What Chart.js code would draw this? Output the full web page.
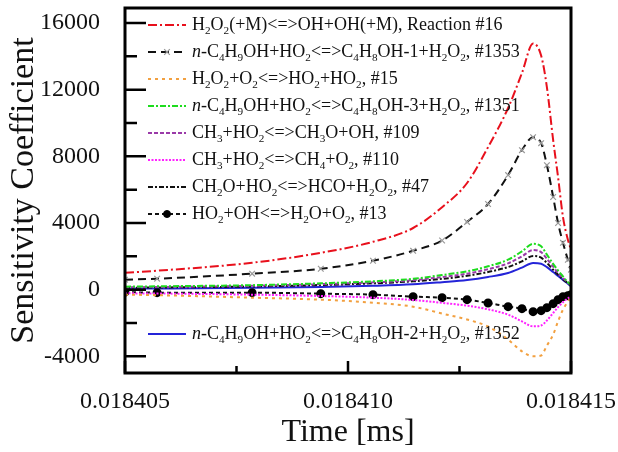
<!DOCTYPE html>
<html>
<head>
<meta charset="utf-8">
<style>
  html, body { margin: 0; padding: 0; background: #fff; }
  #wrap { width: 618px; height: 452px; position: relative; }
</style>
<script src="https://cdn.jsdelivr.net/npm/chart.js@4.4.1/dist/chart.umd.min.js"></script>
</head>
<body>
<div id="wrap"><canvas id="sensChart"></canvas></div>
<script>
// time grid of the solver output [ms]
const times = [0.018405, 0.01840572, 0.01840785, 0.01840939, 0.01841056, 0.01841146, 0.01841211,
  0.01841267, 0.01841314, 0.01841359, 0.01841390, 0.01841415, 0.01841433, 0.01841446,
  0.01841460, 0.01841471, 0.01841482, 0.01841493, 0.018415];

// sensitivity coefficients, one array per reaction
const r16   = [1016, 1136, 1614, 2212, 2870, 3700, 4950, 6400, 8550, 10900, 13000, 14770, 14050, 12140, 8970, 6750, 4360, 3000, 2400];
const r1353 = [598, 658, 957, 1256, 1734, 2332, 2950, 4066, 5140, 6876, 8370, 9150, 8790, 7470, 5560, 4000, 2810, 1790, 1200];
const r15   = [-300, -330, -480, -600, -780, -1020, -1435, -1790, -2210, -2990, -3700, -4000, -3950, -3350, -2700, -1900, -1200, -720, -480];
const r1351 = [180, 200, 270, 380, 500, 650, 880, 1100, 1400, 1800, 2300, 2750, 2600, 2100, 1550, 1150, 800, 450, 300];
const r109  = [140, 160, 230, 330, 440, 570, 760, 960, 1230, 1580, 2000, 2380, 2250, 1850, 1380, 1000, 700, 420, 280];
const r110  = [-220, -230, -300, -380, -480, -620, -790, -960, -1180, -1500, -1900, -2200, -2150, -1850, -1400, -1050, -750, -520, -420];
const r47   = [110, 130, 190, 280, 380, 500, 650, 830, 1060, 1360, 1700, 2020, 1920, 1600, 1200, 900, 620, 380, 250];
const r13   = [-150, -180, -180, -240, -300, -420, -480, -600, -800, -1020, -1140, -1320, -1260, -1080, -840, -600, -420, -360, -300];
const r1352 = [60, 70, 110, 160, 230, 320, 450, 580, 760, 1000, 1320, 1600, 1560, 1350, 1060, 820, 580, 360, 200];

// legend text: _x = subscript char, *..* = italic
const labels = [
  'H_2O_2(+M)<=>OH+OH(+M), Reaction #16',
  '*n*-C_4H_9OH+HO_2<=>C_4H_8OH-1+H_2O_2, #1353',
  'H_2O_2+O_2<=>HO_2+HO_2, #15',
  '*n*-C_4H_9OH+HO_2<=>C_4H_8OH-3+H_2O_2, #1351',
  'CH_3+HO_2<=>CH_3O+OH, #109',
  'CH_3+HO_2<=>CH_4+O_2, #110',
  'CH_2O+HO_2<=>HCO+H_2O_2, #47',
  'HO_2+OH<=>H_2O+O_2, #13',
  '*n*-C_4H_9OH+HO_2<=>C_4H_8OH-2+H_2O_2, #1352'
];

const xMajor = [0.018405, 0.018410, 0.018415];
const xMinor = [0.0184075, 0.0184125];
const yMajor = [-4000, 0, 4000, 8000, 12000, 16000];
const yMinor = [-2000, 2000, 6000, 10000, 14000];

const FONT = '"Liberation Serif", "Times New Roman", serif';

function pts(vals) {
  return vals.map((v, i) => ({ x: times[i], y: v }));
}

function series(label, vals, color, dash, extra) {
  return Object.assign({
    label: label,
    data: pts(vals),
    borderColor: color,
    backgroundColor: color,
    borderWidth: 2,
    borderDash: dash,
    pointRadius: 0,
    cubicInterpolationMode: 'monotone',
    fill: false
  }, extra || {});
}

const datasets = [
  series(labels[0], r16, '#e8101c', [9, 3, 2, 3]),
  series(labels[1], r1353, '#111', [8, 5], {
    pointStyle: 'crossRot', pointRadius: 4, pointBorderColor: '#999', pointBorderWidth: 1.2
  }),
  series(labels[2], r15, '#f2a040', [3, 4]),
  series(labels[3], r1351, '#1edc1e', [6, 2, 2, 2]),
  series(labels[4], r109, '#9a3aa8', [4, 2]),
  series(labels[5], r110, '#ff22ff', [2, 1.5]),
  series(labels[6], r47, '#111', [5, 2, 2, 2]),
  series(labels[7], r13, '#111', [4, 3], {
    pointStyle: 'circle', pointRadius: 3.5, pointBackgroundColor: '#000', pointBorderColor: '#000'
  }),
  series(labels[8], r1352, '#2424d8', [])
];

// rich text with sub-scripts and italics
function drawRich(ctx, text, x, y, size) {
  let italic = false;
  for (let i = 0; i < text.length; i++) {
    let ch = text[i];
    if (ch === '*') { italic = !italic; continue; }
    let sub = false;
    if (ch === '_') { sub = true; ch = text[++i]; }
    const fs = sub ? size * 0.62 : size;
    ctx.font = (italic ? 'italic ' : '') + fs + 'px ' + FONT;
    ctx.fillText(ch, x, sub ? y + size * 0.32 : y);
    x += ctx.measureText(ch).width;
  }
}

const frame = {
  id: 'frame',
  afterDraw(chart) {
    const { ctx, chartArea: a, scales: { x, y } } = chart;
    ctx.save();
    ctx.strokeStyle = '#000';
    ctx.lineWidth = 2.5;
    ctx.setLineDash([]);
    ctx.beginPath();
    // inward ticks, left and bottom only
    yMajor.forEach(v => { const p = y.getPixelForValue(v); ctx.moveTo(a.left, p); ctx.lineTo(a.left + 21, p); });
    yMinor.forEach(v => { const p = y.getPixelForValue(v); ctx.moveTo(a.left, p); ctx.lineTo(a.left + 12, p); });
    xMajor.forEach(v => { const p = x.getPixelForValue(v); ctx.moveTo(p, a.bottom); ctx.lineTo(p, a.bottom - 12); });
    xMinor.forEach(v => { const p = x.getPixelForValue(v); ctx.moveTo(p, a.bottom); ctx.lineTo(p, a.bottom - 7); });
    ctx.stroke();
    ctx.lineWidth = 3;
    ctx.strokeRect(a.left, a.top, a.right - a.left, a.bottom - a.top);

    // legend
    const rows = [25, 52, 79, 106, 133, 160, 187, 214, 334];
    const x0 = a.left + 23, x1 = a.left + 61, tx = a.left + 67;
    chart.data.datasets.forEach((ds, i) => {
      const ry = rows[i];
      ctx.strokeStyle = ds.borderColor;
      ctx.lineWidth = ds.borderWidth;
      ctx.setLineDash(ds.borderDash);
      ctx.beginPath();
      ctx.moveTo(x0, ry);
      ctx.lineTo(x1, ry);
      ctx.stroke();
      ctx.setLineDash([]);
      if (ds.pointRadius > 0) {
        ctx.strokeStyle = ds.pointBorderColor;
        ctx.fillStyle = ds.pointBackgroundColor || ds.pointBorderColor;
        ctx.lineWidth = ds.pointBorderWidth || 1;
        Chart.helpers.drawPoint(ctx, { pointStyle: ds.pointStyle, radius: ds.pointRadius, borderWidth: ctx.lineWidth }, (x0 + x1) / 2, ry);
      }
      ctx.fillStyle = '#111';
      ctx.textBaseline = 'middle';
      ctx.textAlign = 'left';
      drawRich(ctx, ds.label, tx, ry, 18);
    });
    ctx.restore();
  }
};

const ctx = document.getElementById('sensChart').getContext('2d');
new Chart(ctx, {
  type: 'line',
  data: { datasets: datasets },
  options: {
    responsive: true,
    maintainAspectRatio: false,
    animation: false,
    layout: { padding: { top: 8, right: 47, left: 0, bottom: 0 } },
    plugins: { legend: { display: false }, tooltip: { enabled: false } },
    scales: {
      x: {
        type: 'linear',
        min: 0.018405,
        max: 0.018415,
        grid: { display: false },
        border: { display: false },
        afterBuildTicks: s => { s.ticks = xMajor.map(v => ({ value: v })); },
        afterFit: s => { s.height = 79; s.paddingLeft = 0; s.paddingRight = 0; },
        ticks: {
          autoSkip: false, maxRotation: 0, padding: 6, color: '#111',
          font: { family: FONT, size: 24 },
          callback: v => v.toFixed(6)
        },
        title: {
          display: true, text: 'Time [ms]', color: '#111',
          font: { family: FONT, size: 32 }, padding: { top: 0, bottom: 0 }
        }
      },
      y: {
        min: -5000,
        max: 16900,
        grid: { display: false },
        border: { display: false },
        afterBuildTicks: s => { s.ticks = yMajor.map(v => ({ value: v })); },
        afterFit: s => { s.width = 125; s.paddingTop = 0; s.paddingBottom = 0; },
        ticks: {
          autoSkip: false, padding: 17, color: '#111',
          font: { family: FONT, size: 24 },
          callback: v => String(v)
        },
        title: {
          display: true, text: 'Sensitivity Coefficient', color: '#111',
          font: { family: FONT, size: 34 }, padding: { top: 4, bottom: 0 }
        }
      }
    }
  },
  plugins: [frame]
});
</script>
</body>
</html>
